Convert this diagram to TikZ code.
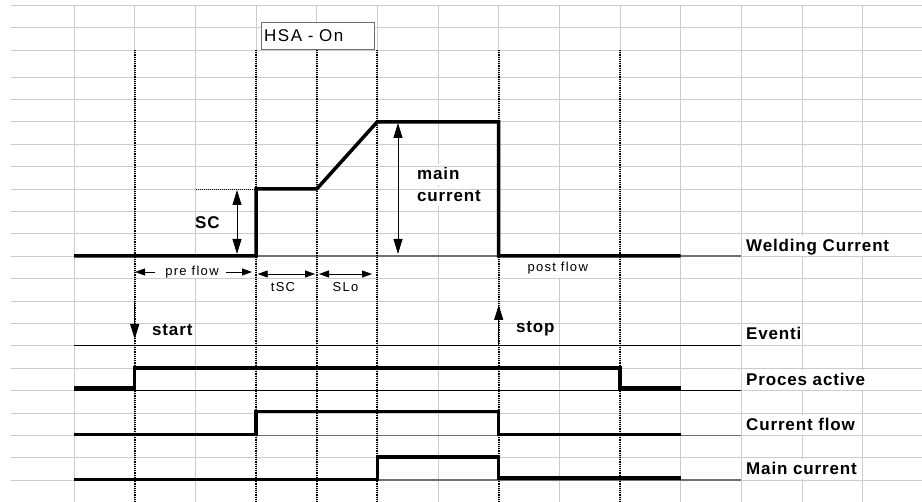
\documentclass[tikz,border=0pt]{standalone}
\usepackage{fontspec}
\setmainfont{Liberation Sans}
\newfontfamily\lblfont[LetterSpace=5]{Liberation Sans}
\newfontfamily\boxfont[LetterSpace=9]{Liberation Sans}
\newfontfamily\dimfont[LetterSpace=10]{Liberation Sans}
\usetikzlibrary{arrows.meta}
\definecolor{cellgray}{RGB}{204,204,204}
\definecolor{rulegray}{RGB}{112,112,112}
\begin{document}
\begin{tikzpicture}[x=1pt,y=-1pt,
  wave/.style={line width=3.5pt,line join=miter},
  timeline/.style={line width=2pt,dash pattern=on 1.2pt off 1pt},
  vdim/.style={line width=0.9pt,>={Triangle[length=15pt,width=9pt]}},
  hdim/.style={line width=0.9pt,>={Triangle[length=10pt,width=7pt]}},
  lbl/.style={font=\lblfont\bfseries\fontsize{17}{20}\selectfont,anchor=base west,
    inner xsep=1pt,inner ysep=0pt,text height=16pt,text depth=4pt,fill=white},
  evlbl/.style={font=\lblfont\bfseries\fontsize{17}{20}\selectfont,anchor=base west,inner sep=0pt},
  dimlbl/.style={font=\dimfont\fontsize{13}{15}\selectfont,anchor=base,inner sep=0pt}]
\def\c{60.67}% column width
\def\r{22.4}% row height
\fill[white] (0,0) rectangle (922,502);
\useasboundingbox (0,0) rectangle (922,502);
% sheet grid
\foreach \i in {0,...,13}
  \draw[cellgray,line width=0.8pt] ({74+\c*\i},5) -- ({74+\c*\i},502);
% row labels
\node[lbl] (weld) at (745,251.7) {Welding Current};
\node[lbl] (eventi) at (745,340) {Eventi};
\node[lbl] (proc) at (745,385.7) {Proces active};
\node[lbl] (flow) at (745,430.7) {Current flow};
\node[lbl] (mainc) at (745,475) {Main current};
\node[lbl,text depth=5pt] (main1) at (416,180) {main};
\node[lbl,text height=15pt] (main2) at (416,202) {current};
\node[dimlbl,fill=white,text height=18pt,text depth=2.5pt] (pre) at (192,275.5) {pre flow};
\node[dimlbl,fill=white,text height=14.5pt,text depth=6pt] (post) at (557.7,271.7) {post flow};
\foreach \y in {5,27.5,50}
  \draw[cellgray,line width=0.8pt] (11,\y) -- (922,\y);
\foreach \j in {0,...,18}
  \draw[cellgray,line width=0.8pt] (11,{77+\r*\j}) -- (922,{77+\r*\j});
% signal base lines
\draw[rulegray,line width=1.5pt] (74,256.2) -- (741.3,256.2);
\draw[line width=0.8pt] (74,345.8) -- (741.3,345.8);
\draw[line width=0.8pt] (74,390.6) -- (741.3,390.6);
\draw[rulegray,line width=1.5pt] (74,435.4) -- (741.3,435.4);
\draw[rulegray,line width=1.5pt] (74,480.2) -- (741.3,480.2);
% time marks
\foreach \x in {134.7,256,316.7,377.3,498.7,620}
  \draw[timeline] (\x,50) -- (\x,502);
\draw[line width=0.8pt,dash pattern=on 1pt off 1pt] (196,189) -- (256,189);
% signals
\draw[wave] (74,256) -- (256,256) -- (256,189) -- (316.7,189) -- (377.3,121.8)
  -- (498.7,121.8) -- (498.7,256) -- (680.7,256);
\draw[wave] (74,388) -- (134.7,388) -- (134.7,368.2) -- (620,368.2) -- (620,388) -- (680.7,388);
\draw[wave] (74,434.5) -- (256,434.5) -- (256,411.5) -- (498.7,411.5) -- (498.7,434.5) -- (680.7,434.5);
\draw[wave] (74,479.5) -- (377.3,479.5) -- (377.3,457) -- (498.7,457) -- (498.7,478) -- (680.7,478);
% dimensions
\coordinate (scA) at (237,190); \coordinate (scB) at (237,254);
\coordinate (mcA) at (398,123); \coordinate (mcB) at (398,254);
\coordinate (pfA) at (155,272); \coordinate (pfB) at (135,272);
\coordinate (pfC) at (226,272); \coordinate (pfD) at (252,272);
\coordinate (tscA) at (257.7,274); \coordinate (tscB) at (315,274);
\coordinate (sloA) at (319,274); \coordinate (sloB) at (372,274);
\coordinate (stA) at (134.7,302); \coordinate (stB) at (134.7,339);
\coordinate (spA) at (498.7,345.8); \coordinate (spB) at (498.7,305);
\draw[vdim,<->] (scA) -- (scB);
\draw[vdim,<->] (mcA) -- (mcB);
\draw[hdim,->] (pfA) -- (pfB);
\draw[hdim,->] (pfC) -- (pfD);
\draw[hdim,<->] (tscA) -- (tscB);
\draw[hdim,<->] (sloA) -- (sloB);
\draw[vdim,->,line width=1.3pt] (stA) -- (stB);
\draw[vdim,->,line width=1.3pt] (spA) -- (spB);
\node[evlbl] (sc) at (195,229) {SC};
\node[evlbl] (start) at (152,336) {start};
\node[evlbl] (stop) at (516,333) {stop};
\node[dimlbl] (tsc) at (283,291.7) {tSC};
\node[dimlbl] (slo) at (345.5,291.7) {SLo};
% HSA box
\node[draw=rulegray,fill=white,anchor=north west,inner xsep=3.5pt,inner ysep=0pt,
  text width=106pt,align=left,minimum height=27pt,
  font=\boxfont\fontsize{17}{20}\selectfont] (hsa) at (260.5,22) {HSA - On};
\end{tikzpicture}
\end{document}
